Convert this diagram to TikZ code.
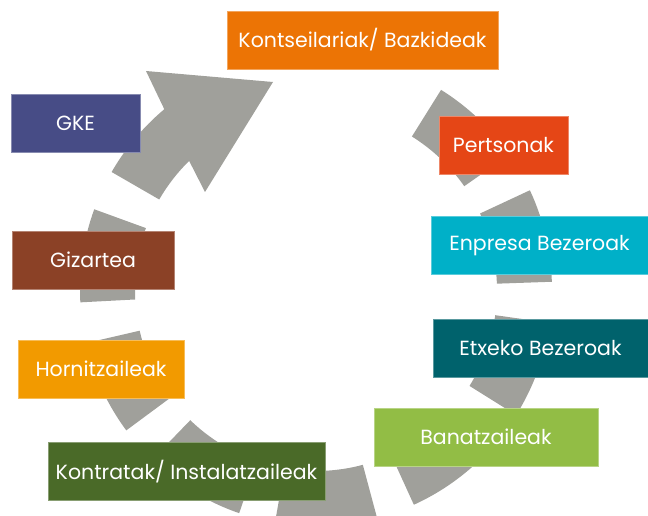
\documentclass[tikz,border=0pt]{standalone}
\usepackage{fontspec}
\setmainfont{Poppins}
\definecolor{ringgray}{RGB}{160,160,155}
\definecolor{kontseiluorange}{RGB}{236,116,5}
\definecolor{gkeblue}{RGB}{71,76,134}
\definecolor{gizartebrown}{RGB}{139,65,38}
\definecolor{hornitzaileyellow}{RGB}{242,154,0}
\definecolor{kontratagreen}{RGB}{74,106,40}
\definecolor{pertsonared}{RGB}{229,70,22}
\definecolor{enpresacyan}{RGB}{0,176,200}
\definecolor{etxekoteal}{RGB}{0,98,108}
\definecolor{banatzailegreen}{RGB}{146,189,69}

\begin{document}
\begin{tikzpicture}[
	x=1pt,
	y=1pt,
	stakeholder/.style={rectangle, draw=#1!65!white, line width=0.6pt, fill=#1, text=white, minimum height=58pt, inner sep=0pt, font=\fontsize{20.5}{24}\selectfont},
	ring/.style={fill=ringgray}
]
\useasboundingbox (0,0) rectangle (648,515);

% circular arrow, cut into pieces
\begin{scope}[shift={(316,225)}]
\foreach \a/\b in {58/35, 25/2, -8/-32, -42/-65.5, -75/-100, -109/-134, -143.5/-167, -177/-200}
	\fill[ring] (\a:236) arc[start angle=\a, end angle=\b, radius=236] -- (\b:181) arc[start angle=\b, end angle=\a, radius=181] -- cycle;
\fill[ring] (150:236) arc[start angle=150, end angle=130, radius=236] -- (-170,219) -- (-43,208) -- (-111,98) -- (134.5:181) arc[start angle=134.5, end angle=150, radius=181] -- cycle;
\end{scope}

\node[stakeholder=kontseiluorange, minimum width=271pt] (kontseilu) at (362.5,475) {Kontseilariak/ Bazkideak};
\node[stakeholder=gkeblue, minimum width=129pt] (gke) at (75.5,392) {GKE};
\node[stakeholder=gizartebrown, minimum width=162pt] (gizartea) at (93,255) {Gizartea};
\node[stakeholder=hornitzaileyellow, minimum width=166pt] (hornitzaile) at (101,146) {Hornitzaileak};
\node[stakeholder=kontratagreen, minimum width=277pt] (kontrata) at (186.5,43.5) {Kontratak/ Instalatzaileak};
\node[stakeholder=pertsonared, minimum width=129pt] (pertsona) at (503.5,369.5) {Pertsonak};
\node[stakeholder=enpresacyan, minimum width=217pt] (enpresa) at (539.5,269.5) {Enpresa Bezeroak};
\node[stakeholder=etxekoteal, minimum width=215pt] (etxeko) at (540.5,167) {Etxeko Bezeroak};
\node[stakeholder=banatzailegreen, minimum width=224pt] (banatzaile) at (486,78) {Banatzaileak};

\end{tikzpicture}
\end{document}
